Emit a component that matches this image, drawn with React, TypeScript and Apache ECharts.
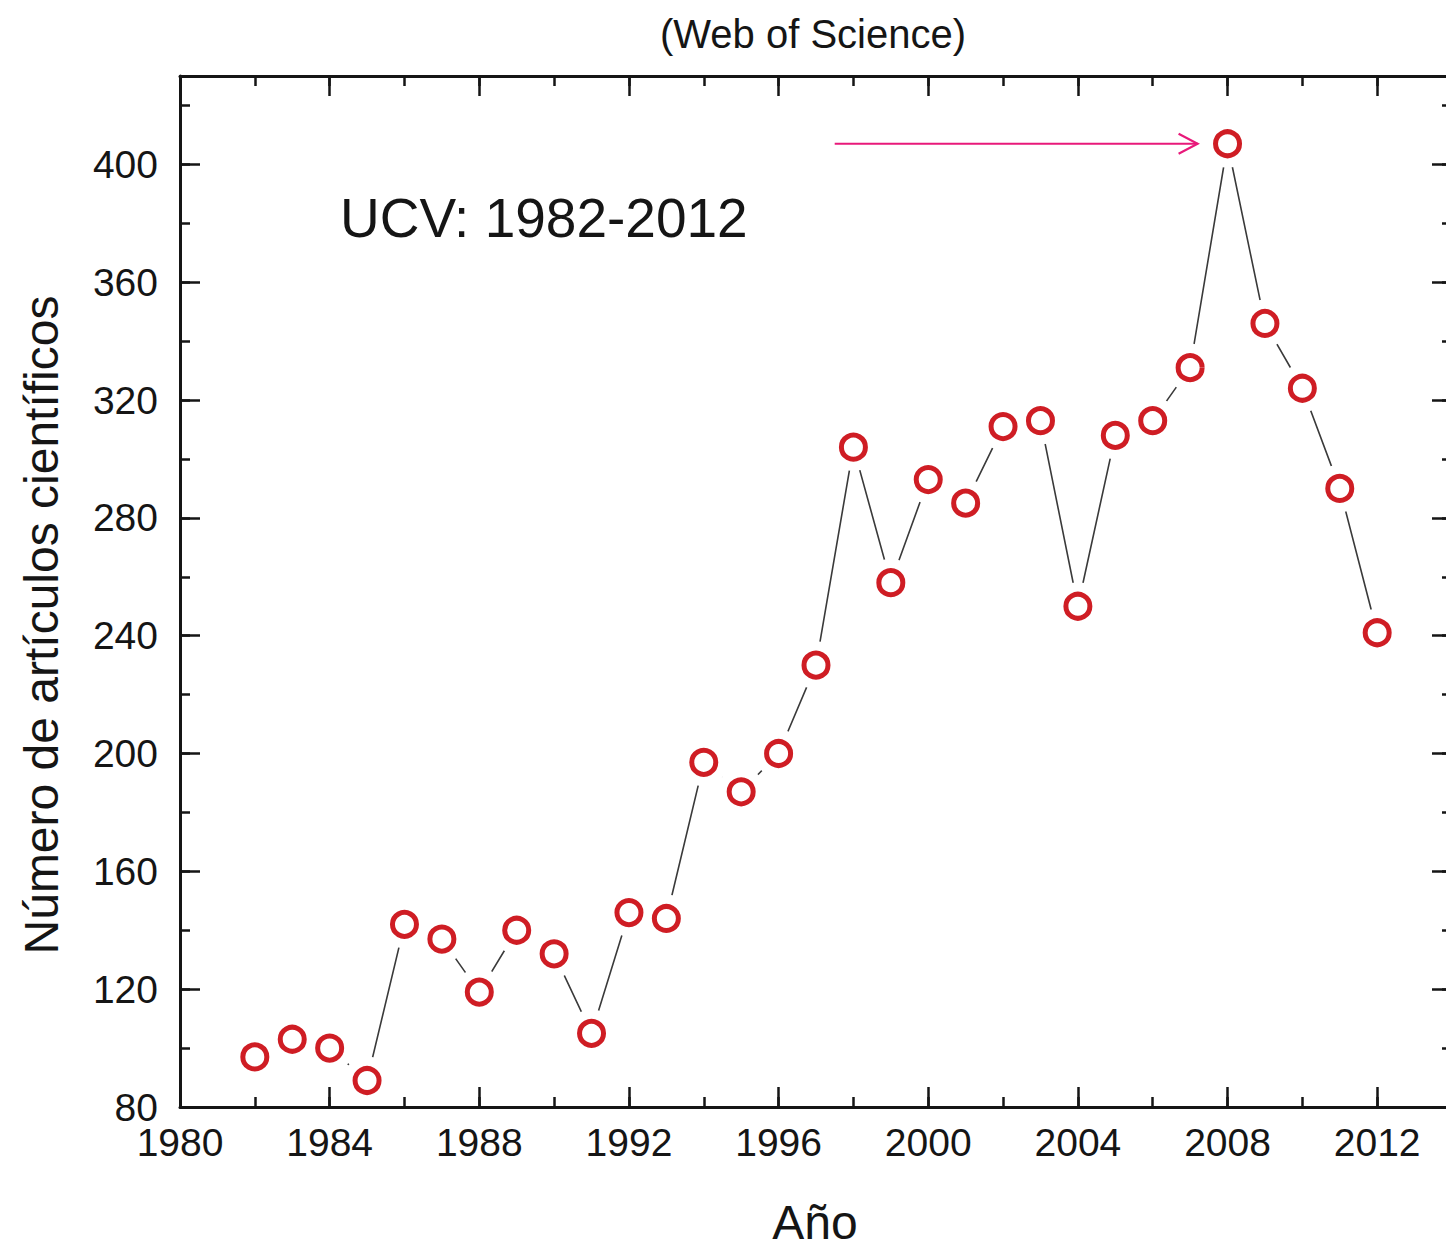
import React, { useEffect, useRef } from "react";
import * as echarts from "echarts";

// ---- data ----
const years = [
  1982, 1983, 1984, 1985, 1986, 1987, 1988, 1989, 1990, 1991, 1992, 1993, 1994, 1995, 1996, 1997,
  1998, 1999, 2000, 2001, 2002, 2003, 2004, 2005, 2006, 2007, 2008, 2009, 2010, 2011, 2012,
];
const articles = [
  97, 103, 100, 89, 142, 137, 119, 140, 132, 105, 146, 144, 197, 187, 200, 230,
  304, 258, 293, 285, 311, 313, 250, 308, 313, 331, 407, 346, 324, 290, 241,
];
const xRange = [1980, 2014];
const yRange = [80, 430];
const xMajor = 4;
const xMinor = 2;
const yMajor = 40;
const yMinor = 20;
const arrowFrom = [1997.5, 407];
const arrowTo = [2007.2, 407];
const titleText = "(Web of Science)";
const noteText = "UCV: 1982-2012";
const xName = "Año";
const yName = "Número de artículos científicos";

const FONT = '"Liberation Sans", Arial, Helvetica, sans-serif';
const INK = "#151515";

function xAx(position: string, interval: number, len: number, line: boolean, labels: boolean) {
  return {
    type: "value",
    position,
    min: xRange[0],
    max: xRange[1],
    interval,
    splitLine: { show: false },
    axisLine: { show: line, onZero: false, lineStyle: { color: INK, width: 3 } },
    axisTick: { show: true, inside: true, length: len, lineStyle: { color: INK, width: 2.5 } },
    axisLabel: {
      show: labels,
      margin: 16,
      fontSize: 39,
      fontFamily: FONT,
      color: INK,
      showMaxLabel: false,
      formatter: (v: number) => (v % xMajor === 0 ? String(v) : ""),
    },
  };
}

function yAx(position: string, interval: number, len: number, line: boolean, labels: boolean) {
  return {
    type: "value",
    position,
    min: yRange[0],
    max: yRange[1],
    interval,
    splitLine: { show: false },
    axisLine: { show: line, onZero: false, lineStyle: { color: INK, width: 3 } },
    axisTick: { show: true, inside: true, length: len, lineStyle: { color: INK, width: 2.5 } },
    axisLabel: {
      show: labels,
      margin: 22,
      fontSize: 39,
      fontFamily: FONT,
      color: INK,
      showMaxLabel: false,
      formatter: (v: number) => (v % yMajor === 0 ? String(v) : ""),
    },
  };
}

export default function App() {
  const ref = useRef<HTMLDivElement>(null);

  useEffect(() => {
    if (!ref.current) return;
    const chart = echarts.init(ref.current, undefined, { renderer: "svg" });
    const pts = years.map((y, i) => [y, articles[i]]);
    chart.setOption({
      animation: false,
      backgroundColor: "#ffffff",
      grid: { left: 180, top: 76, width: 1272, height: 1031 },
      xAxis: [
        xAx("bottom", xMinor, 10, true, true),
        xAx("bottom", xMajor, 20, false, false),
        xAx("top", xMinor, 10, true, false),
        xAx("top", xMajor, 20, false, false),
      ],
      yAxis: [
        yAx("left", yMinor, 10, true, true),
        yAx("left", yMajor, 20, false, false),
        yAx("right", yMinor, 10, true, false),
        yAx("right", yMajor, 20, false, false),
      ],
      series: [
        {
          type: "line",
          data: pts,
          showSymbol: false,
          symbol: "none",
          z: 2,
          lineStyle: { color: "#3a3a3a", width: 1.6 },
        },
        {
          type: "scatter",
          data: pts,
          symbol: "circle",
          symbolSize: 48,
          z: 3,
          itemStyle: { color: "#ffffff", opacity: 1 },
        },
        {
          type: "scatter",
          data: pts,
          symbol: "circle",
          symbolSize: 24,
          z: 4,
          itemStyle: { color: "#ffffff", borderColor: "#cf1d24", borderWidth: 5, opacity: 1 },
        },
      ],
    });

    const a = chart.convertToPixel({ gridIndex: 0 }, arrowFrom) as number[];
    const b = chart.convertToPixel({ gridIndex: 0 }, arrowTo) as number[];
    const magenta = "#e8197a";
    chart.setOption({
      graphic: [
        {
          type: "text",
          x: 813,
          y: 34,
          style: { text: titleText, font: `40px ${FONT}`, fill: INK, verticalAlign: "middle", align: "center" },
          z: 10,
        },
        {
          type: "text",
          x: 340,
          y: 218,
          style: { text: noteText, font: `55px ${FONT}`, fill: INK, verticalAlign: "middle", align: "left" },
          z: 10,
        },
        {
          type: "text",
          x: 815,
          y: 1222,
          style: { text: xName, font: `48px ${FONT}`, fill: INK, verticalAlign: "middle", align: "center" },
          z: 10,
        },
        {
          type: "text",
          x: 41,
          y: 625,
          rotation: Math.PI / 2,
          style: { text: yName, font: `48px ${FONT}`, fill: INK, verticalAlign: "middle", align: "center" },
          z: 10,
        },
        {
          type: "line",
          shape: { x1: a[0], y1: a[1], x2: b[0], y2: b[1] },
          style: { stroke: magenta, lineWidth: 2 },
          z: 10,
        },
        {
          type: "polyline",
          shape: { points: [[b[0] - 19, b[1] - 10], [b[0], b[1]], [b[0] - 19, b[1] + 10]] },
          style: { stroke: magenta, lineWidth: 2.2, fill: "none" },
          z: 10,
        },
      ],
    });

    return () => chart.dispose();
  }, []);

  return (
    <div style={{ position: "fixed", left: 0, top: 0, width: 1446, height: 1248, overflow: "hidden", background: "#fff" }}>
      <div ref={ref} style={{ width: 1470, height: 1248 }} />
    </div>
  );
}
